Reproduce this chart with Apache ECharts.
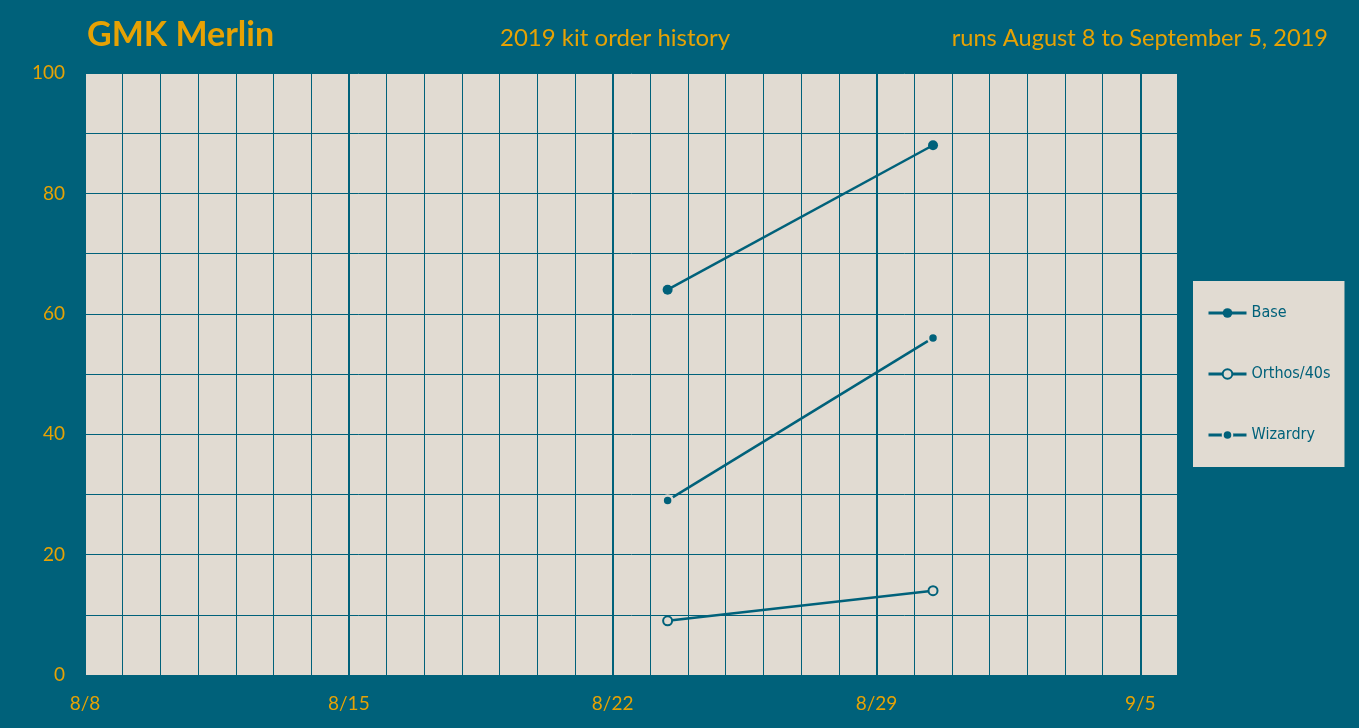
<!DOCTYPE html>
<html><head><meta charset="utf-8">
<script src="https://cdn.jsdelivr.net/npm/echarts@6/dist/echarts.min.js"></script>
<style>html,body{margin:0;padding:0;background:#00617a;}#c{width:1359px;height:728px;}</style>
</head><body><div id="c"></div>
<script>
const seriesNames = ['Base', 'Orthos/40s', 'Wizardry'];
const orderDates = ['2019-08-23T11:00:00Z', '2019-08-30T12:00:00Z'];
const baseValues = [64, 88];
const orthosValues = [9, 14];
const wizardryValues = [29, 56];
const xStart = '2019-08-08T00:00:00Z';
const xEnd = '2019-09-06T00:00:00Z';
const yTicks = [0, 20, 40, 60, 80, 100];

const DAY = 86400000;
const t0 = Date.parse(xStart), t1 = Date.parse(xEnd);
const ts = orderDates.map(d => Date.parse(d));
const pairs = vals => ts.map((t, i) => [t, vals[i]]);

const BG = '#00617a', PLOT = '#e1dbd2', TEAL = '#00617a', GOLD = '#e6a204';
const chart = echarts.init(document.getElementById('c'));
const fmtDay = v => {
  const off = Math.round((v - t0) / DAY);
  if (off % 7 !== 0) return '';
  const d = new Date(v);
  return (d.getUTCMonth() + 1) + '/' + d.getUTCDate();
};
chart.setOption({
  backgroundColor: BG,
  animation: false,
  title: [
    {text: 'GMK Merlin', left: 82, top: 13, textStyle: {color: GOLD, fontFamily: 'Lato', fontWeight: 'bold', fontSize: 34}},
    {text: '2019 kit order history', left: 495, top: 21, textStyle: {color: GOLD, fontFamily: 'Lato', fontWeight: 'normal', fontSize: 24}},
    {text: 'runs August 8 to September 5, 2019', right: 26, top: 21, textStyle: {color: GOLD, fontFamily: 'Lato', fontWeight: 'normal', fontSize: 23.6}}
  ],
  grid: {left: 85, top: 73, width: 1093, height: 602, show: true, backgroundColor: PLOT, borderWidth: 0},
  legend: {
    orient: 'vertical', left: 1193, top: 281,
    backgroundColor: PLOT, padding: [24, 14, 24, 14], itemGap: 45,
    itemWidth: 38, itemHeight: 12,
    lineStyle: {width: 3},
    textStyle: {color: TEAL, fontFamily: 'DejaVu Sans Condensed', fontSize: 16},
    data: seriesNames
  },
  xAxis: [
    {type: 'value', min: t0, max: t1, interval: DAY,
     axisLine: {show: false}, axisTick: {show: false},
     axisLabel: {formatter: fmtDay, color: GOLD, fontFamily: 'Lato', fontSize: 19, margin: 19, showMaxLabel: false},
     splitLine: {show: true, lineStyle: {color: TEAL, width: 1}}},
    {type: 'value', min: t0, max: t1, interval: 7 * DAY, position: 'bottom',
     axisLine: {show: false}, axisTick: {show: false}, axisLabel: {show: false},
     splitLine: {show: true, lineStyle: {color: TEAL, width: 2}}}
  ],
  yAxis: {type: 'value', min: 0, max: 100, interval: 10,
    axisLine: {show: false}, axisTick: {show: false},
    axisLabel: {formatter: v => yTicks.includes(v) ? String(v) : '', color: GOLD, fontFamily: 'Lato', fontSize: 19, margin: 20},
    splitLine: {show: true, lineStyle: {color: TEAL, width: 1}}},
  series: [
    {name: seriesNames[0], type: 'line', data: pairs(baseValues), symbol: 'circle', symbolSize: 10,
     lineStyle: {color: TEAL, width: 2.5}, itemStyle: {color: TEAL, borderWidth: 0}},
    {name: seriesNames[1], type: 'line', data: pairs(orthosValues), symbol: 'circle', symbolSize: 9,
     lineStyle: {color: TEAL, width: 2.5}, itemStyle: {color: PLOT, borderColor: TEAL, borderWidth: 2}},
    {name: seriesNames[2], type: 'line', data: pairs(wizardryValues), symbol: 'circle', symbolSize: 10,
     lineStyle: {color: TEAL, width: 2.5}, itemStyle: {color: TEAL, borderColor: PLOT, borderWidth: 2.5}}
  ]
});
</script></body></html>
